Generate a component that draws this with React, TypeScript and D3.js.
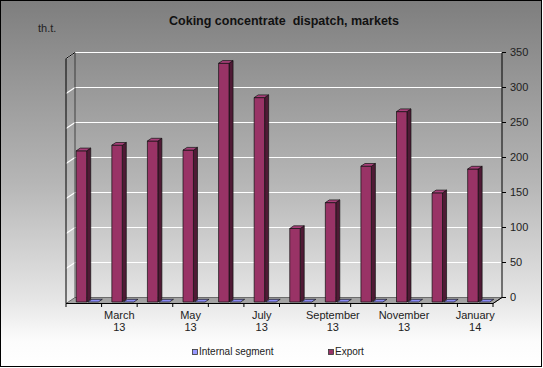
import React from "react";
import * as d3 from "d3";

const months = ["February", "March", "April", "May", "June", "July", "August", "September", "October", "November", "December", "January"];
const years = ["13", "13", "13", "13", "13", "13", "13", "13", "13", "13", "13", "14"];
const seriesNames = ["Export", "Internal segment"];
const exportValues = [216, 224, 230, 217, 341, 292, 105, 142, 194, 272, 156, 190];
const internalValues = [0, 0, 0, 0, 0, 0, 0, 0, 0, 0, 0, 0];
const valueTicks = [0, 50, 100, 150, 200, 250, 300, 350];

const W = 543;
const H = 368;
// front plane of the floor, and how far the back wall is shifted
const X0 = 66;
const X1 = 493;
const FRONT_Y = 303.5;
const DX = 9;
const DY = -6;

const colors: Record<string, { front: string; side: string; top: string }> = {
  Export: { front: "#993366", side: "#4f1a35", top: "#a8407a" },
  "Internal segment": { front: "#9999ff", side: "#5c5cb0", top: "#8c8cf5" },
};

const App = () => {
  const x0 = d3.scaleBand<number>().domain(d3.range(months.length)).range([X0, X1]);
  const x1 = d3.scaleBand<string>().domain(seriesNames).range([8, 30]).paddingInner(0.1);
  const h = d3.scaleLinear().domain([0, 350]).range([0, 245]);

  // project a front-plane x, depth (0..1) and value to the screen
  const pt = (x: number, d: number, v: number): [number, number] => [x + DX * d, FRONT_Y + DY * d - h(v)];
  const poly = (ps: [number, number][]) => ps.map((p) => p.join(",")).join(" ");

  const backY = (v: number) => FRONT_Y + DY - h(v);
  const dA = 0.25;
  const dB = 0.7;

  const bars: JSX.Element[] = [];
  months.forEach((m, i) => {
    seriesNames.forEach((s) => {
      const v = s === "Export" ? exportValues[i] : internalValues[i];
      const xl = (x0(i) as number) + (x1(s) as number);
      const xr = xl + x1.bandwidth();
      const c = colors[s];
      const front = poly([pt(xl, dA, 0), pt(xr, dA, 0), pt(xr, dA, v), pt(xl, dA, v)]);
      const side = poly([pt(xr, dA, 0), pt(xr, dB, 0), pt(xr, dB, v), pt(xr, dA, v)]);
      const top = poly([pt(xl, dA, v), pt(xr, dA, v), pt(xr, dB, v), pt(xl, dB, v)]);
      bars.push(
        <g key={m + s} stroke="#111" strokeWidth={0.7} strokeLinejoin="round">
          {v > 0 && <polygon points={side} fill={c.side} />}
          {v > 0 && <polygon points={front} fill={c.front} />}
          <polygon points={top} fill={c.top} />
        </g>
      );
    });
  });

  const floor = poly([pt(X0, 0, 0), pt(X1, 0, 0), pt(X1, 1, 0), pt(X0, 1, 0)]);

  return (
    <div style={{ position: "absolute", left: 0, top: 0 }}>
      <svg width={W} height={H} style={{ display: "block", fontFamily: "Liberation Sans, Arial, sans-serif" }}>
        <defs>
          <linearGradient id="bg" x1="0" y1="0" x2="0" y2="1">
            <stop offset="0" stopColor="#7e7e7e" />
            <stop offset="0.5" stopColor="#b6b6b6" />
            <stop offset="0.82" stopColor="#e6e6e6" />
            <stop offset="0.93" stopColor="#fcfcfc" />
            <stop offset="1" stopColor="#ffffff" />
          </linearGradient>
        </defs>
        <rect x={0.5} y={0.5} width={541} height={366} fill="url(#bg)" stroke="#000" />
        <line x1={1} y1={366.5} x2={542} y2={366.5} stroke="#000" />

        <text x={284} y={25} textAnchor="middle" fontSize={12.5} fontWeight="bold" fill="#111" style={{ whiteSpace: "pre" }}>
          {"Coking concentrate  dispatch, markets"}
        </text>
        <text x={38} y={32} fontSize={11} fill="#222">
          th.t.
        </text>

        {/* floor */}
        <polygon points={floor} fill="#a3a3a3" stroke="#555" strokeWidth={0.8} />

        {/* grid lines on back and side wall */}
        {valueTicks.slice(1).map((t) => (
          <g key={t} stroke="#fff" strokeWidth={1.2}>
            <line x1={X0 + DX} y1={backY(t)} x2={X1 + DX} y2={backY(t)} />
            <line x1={X0} y1={FRONT_Y - h(t)} x2={X0 + DX} y2={backY(t)} />
          </g>
        ))}

        {/* wall edges */}
        <g stroke="#000" strokeWidth={1}>
          <line x1={X0} y1={FRONT_Y} x2={X0} y2={FRONT_Y - h(350)} />
          <line x1={X0} y1={FRONT_Y - h(350)} x2={X0 + DX} y2={backY(350)} />
          <line x1={X0 + DX} y1={backY(0)} x2={X0 + DX} y2={backY(350)} strokeWidth={0.6} />
          <line x1={X1 + DX} y1={backY(0)} x2={X1 + DX} y2={backY(350)} />
          <line x1={X0} y1={FRONT_Y} x2={X1} y2={FRONT_Y} />
          <line x1={X1} y1={FRONT_Y} x2={X1 + DX} y2={backY(0)} />
        </g>

        {/* value axis */}
        {valueTicks.map((t) => (
          <g key={t}>
            <line x1={X1 + DX} y1={backY(t)} x2={X1 + DX + 4} y2={backY(t)} stroke="#000" />
            <text x={X1 + DX + 8} y={backY(t)} dy="0.35em" fontSize={11} fill="#222">
              {t}
            </text>
          </g>
        ))}

        {/* category axis ticks and labels */}
        {d3.range(months.length + 1).map((i) => {
          const x = X0 + i * x0.step();
          return <line key={i} x1={x} y1={FRONT_Y} x2={x} y2={FRONT_Y + 3.5} stroke="#000" />;
        })}
        {months.map((m, i) =>
          i % 2 === 1 ? (
            <text key={m} x={(x0(i) as number) + x0.bandwidth() / 2} textAnchor="middle" fontSize={11} fill="#222">
              <tspan x={(x0(i) as number) + x0.bandwidth() / 2} y={319}>
                {m}
              </tspan>
              <tspan x={(x0(i) as number) + x0.bandwidth() / 2} y={331}>
                {years[i]}
              </tspan>
            </text>
          ) : null
        )}

        {bars}

        {/* legend */}
        <rect x={192.5} y={349.5} width={5} height={5} fill="#9999ff" stroke="#333" strokeWidth={0.8} />
        <text x={199} y={355} fontSize={10} fill="#222">
          Internal segment
        </text>
        <rect x={328.5} y={349.5} width={5} height={5} fill="#993366" stroke="#333" strokeWidth={0.8} />
        <text x={335} y={355} fontSize={10} fill="#222">
          Export
        </text>
      </svg>
    </div>
  );
};

export default App;
